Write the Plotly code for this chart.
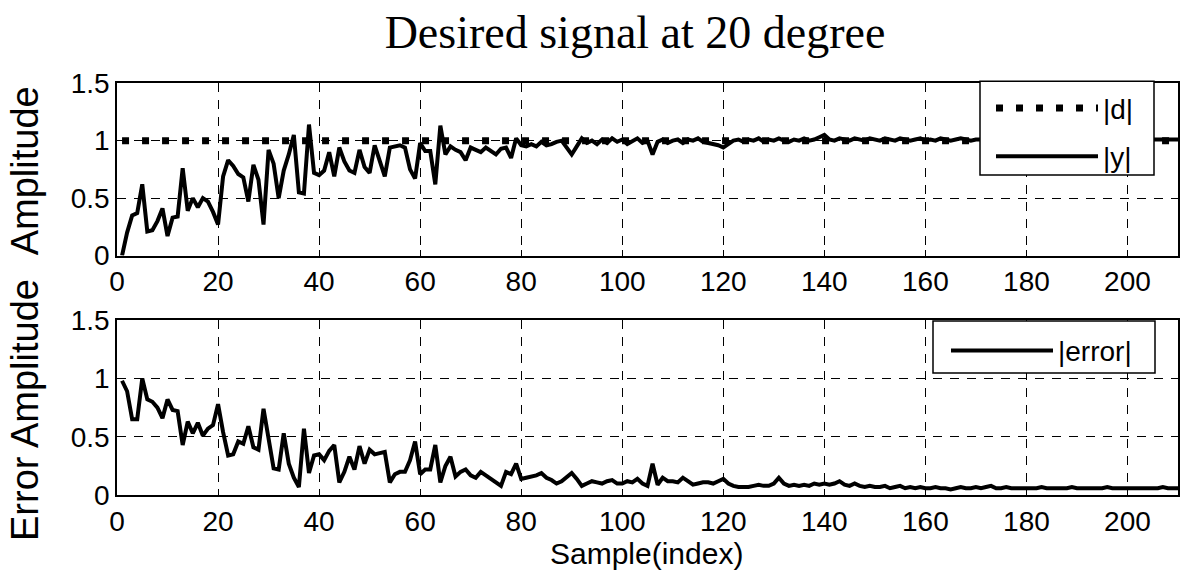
import plotly.graph_objects as go

# ---------------- data ----------------
y_mag = [
    0.0, 0.2, 0.35, 0.37, 0.62, 0.21, 0.22, 0.3, 0.41, 0.17,
    0.33, 0.34, 0.76, 0.39, 0.5, 0.42, 0.5, 0.47, 0.38, 0.27,
    0.69, 0.83, 0.78, 0.71, 0.68, 0.47, 0.79, 0.66, 0.27, 0.92,
    0.8, 0.5, 0.74, 0.88, 1.05, 0.55, 0.54, 1.14, 0.72, 0.70,
    0.74, 0.9, 0.69, 0.94, 0.82, 0.74, 0.72, 0.92, 0.77, 0.72,
    0.96, 0.82, 0.69, 0.94, 0.95, 0.96, 0.94, 0.75, 0.67, 0.98,
    0.91, 0.91, 0.62, 1.13, 0.88, 0.95, 0.92, 0.9, 0.83, 0.94,
    0.92, 0.9, 0.94, 0.91, 0.88, 0.93, 0.94, 0.85, 1.02, 0.96,
    0.95, 0.97, 0.95, 0.99, 0.96, 0.97, 0.99, 1.0, 0.94, 0.88,
    0.95, 1.02, 0.98, 1.0, 0.97, 1.01, 0.98, 1.02, 0.99, 1.01,
    0.97, 1.0, 1.02, 0.98, 1.0, 0.88, 0.99, 1.01, 0.98, 1.0,
    1.01, 0.98, 1.01, 1.0, 1.02, 0.99, 0.98, 0.97, 0.96, 0.94,
    0.97, 1.0, 1.01, 0.99, 1.01, 1.0, 1.02, 0.99, 1.01, 1.0,
    1.02, 1.0, 0.99, 1.01, 1.0, 1.02, 1.0, 1.01, 1.03, 1.05,
    1.01, 1.0, 1.02, 1.01, 1.0, 1.02, 1.01, 1.0, 1.02, 1.01,
    1.0, 1.02, 1.01, 1.0, 1.02, 1.01, 1.0, 1.01, 1.02, 1.0,
    1.01, 1.0, 1.02, 1.01, 1.0, 1.01, 1.02, 1.01, 1.0, 1.01,
    1.01, 1.01, 1.02, 1.01, 1.01, 1.01, 1.02, 1.01, 1.01, 1.01,
    1.01, 1.02, 1.01, 1.01, 1.01, 1.01, 1.01, 1.02, 1.01, 1.01,
    1.01, 1.01, 1.01, 1.01, 1.02, 1.01, 1.01, 1.01, 1.01, 1.01,
    1.01, 1.01, 1.02, 1.01, 1.01, 1.01, 1.01, 1.01, 1.01, 1.01,
]

err_mag = [
    0.98, 0.89, 0.65, 0.65, 1.0, 0.82, 0.8, 0.75, 0.66, 0.82,
    0.73, 0.72, 0.43, 0.63, 0.53, 0.62, 0.51, 0.57, 0.6, 0.78,
    0.54, 0.34, 0.35, 0.46, 0.44, 0.59, 0.41, 0.39, 0.74, 0.46,
    0.23, 0.22, 0.53, 0.27, 0.15, 0.07, 0.57, 0.19, 0.34, 0.35,
    0.3, 0.38, 0.43, 0.11, 0.2, 0.33, 0.22, 0.42, 0.27, 0.39,
    0.35, 0.36, 0.37, 0.11, 0.18, 0.2, 0.2, 0.3, 0.46, 0.18,
    0.22, 0.22, 0.43, 0.11, 0.25, 0.33, 0.16, 0.2, 0.22, 0.17,
    0.15, 0.2, 0.17, 0.14, 0.12, 0.08, 0.2, 0.18, 0.27, 0.14,
    0.15, 0.16, 0.17, 0.19, 0.15, 0.13, 0.1, 0.12, 0.16, 0.19,
    0.14, 0.08, 0.1, 0.12, 0.11, 0.1, 0.12, 0.13, 0.1, 0.1,
    0.12, 0.11, 0.14, 0.1, 0.08, 0.27, 0.09, 0.15, 0.12, 0.12,
    0.11, 0.15, 0.12, 0.09, 0.1, 0.11, 0.11, 0.1, 0.12, 0.14,
    0.1, 0.08, 0.07, 0.07, 0.07, 0.08, 0.09, 0.08, 0.08, 0.1,
    0.15, 0.1, 0.08, 0.09, 0.08, 0.09, 0.08, 0.1, 0.09, 0.1,
    0.09, 0.1, 0.12, 0.09, 0.08, 0.1, 0.08, 0.07, 0.08, 0.07,
    0.07, 0.08, 0.06, 0.07, 0.08, 0.06, 0.07, 0.06, 0.07, 0.06,
    0.06, 0.07, 0.06, 0.06, 0.05, 0.06, 0.07, 0.06, 0.06, 0.07,
    0.06, 0.07, 0.08, 0.06, 0.06, 0.07, 0.06, 0.06, 0.06, 0.06,
    0.06, 0.06, 0.07, 0.06, 0.06, 0.06, 0.06, 0.06, 0.07, 0.06,
    0.06, 0.06, 0.06, 0.06, 0.06, 0.07, 0.06, 0.06, 0.06, 0.06,
    0.06, 0.06, 0.06, 0.06, 0.06, 0.06, 0.07, 0.06, 0.06, 0.06,
]

samples = list(range(1, len(y_mag) + 1))
d_mag = [1.0] * len(samples)

x_ticks = [0, 20, 40, 60, 80, 100, 120, 140, 160, 180, 200]
y_ticks = [0, 0.5, 1, 1.5]
y_tick_text = ["0", "0.5", "1", "1.5"]

title_text = "Desired signal at 20 degree"
ylabel_top = "Amplitude"
ylabel_bottom = "Error Amplitude"
xlabel = "Sample(index)"

# ---------------- figure ----------------
W, H = 1185, 587
L, R = 117, 7
PW = W - L - R

SANS = "Liberation Sans, Arial, sans-serif"
SERIF = "Liberation Serif, Times New Roman, serif"


def fy(px):
    return (H - px) / H


def fx(px):
    return (px - L) / PW


fig = go.Figure()
fig.add_trace(go.Scatter(
    x=samples, y=d_mag, mode="lines", name="|d|", legendgroup="d",
    line=dict(color="black", width=7, dash="7px,13px"),
    xaxis="x", yaxis="y", legend="legend"))
fig.add_trace(go.Scatter(
    x=samples, y=y_mag, mode="lines", name="|y|", legendgroup="y",
    line=dict(color="black", width=4),
    xaxis="x", yaxis="y", legend="legend"))
fig.add_trace(go.Scatter(
    x=samples, y=err_mag, mode="lines", name="|error|",
    line=dict(color="black", width=4),
    xaxis="x2", yaxis="y2", legend="legend2"))

tickfont = dict(family=SANS, size=28, color="black")
common_x = dict(range=[0, 210], tickvals=x_ticks, showgrid=True, gridcolor="black",
                gridwidth=1, griddash="9px,8px", showline=True, mirror=True,
                linecolor="black", linewidth=1.5, ticks="inside", ticklen=6,
                tickcolor="black", tickfont=tickfont, zeroline=False,
                ticklabelstandoff=0)
common_y = dict(range=[0, 1.5], tickvals=y_ticks, ticktext=y_tick_text, showgrid=True,
                gridcolor="black", gridwidth=1, griddash="9px,8px", showline=True,
                mirror=True, linecolor="black", linewidth=1.5, ticks="inside",
                ticklen=6, tickcolor="black", tickfont=tickfont, zeroline=False)

legend_font = dict(family=SANS, size=28, color="black")

fig.update_layout(
    width=W, height=H,
    margin=dict(l=L, r=R, t=0, b=0),
    paper_bgcolor="white", plot_bgcolor="white",
    showlegend=True,
    xaxis=dict(domain=[0, 1], anchor="y", **common_x),
    yaxis=dict(domain=[fy(254), fy(72)], anchor="x", **common_y),
    xaxis2=dict(domain=[0, 1], anchor="y2", **common_x),
    yaxis2=dict(domain=[fy(507), fy(322)], anchor="x2", **common_y),
    title=dict(text=title_text, x=635 / W, xref="container", xanchor="center",
               y=fy(32), yref="container", yanchor="middle",
               font=dict(family=SERIF, size=46, color="black")),
    legend=dict(x=fx(991), y=fy(72), xanchor="left", yanchor="top",
                xref="paper", yref="paper",
                bgcolor="rgba(0,0,0,0)", borderwidth=0,
                font=legend_font, itemwidth=102, traceorder="grouped",
                tracegroupgap=9),
    legend2=dict(x=fx(946), y=fy(328), xanchor="left", yanchor="top",
                 xref="paper", yref="paper",
                 bgcolor="rgba(0,0,0,0)", borderwidth=0,
                 font=legend_font, itemwidth=102),
    shapes=[
        dict(type="rect", xref="paper", yref="paper", layer="above",
             x0=fx(980), x1=fx(1154), y0=fy(169), y1=fy(70),
             fillcolor="white", line=dict(color="black", width=1.5)),
        dict(type="rect", xref="paper", yref="paper", layer="above",
             x0=fx(933), x1=fx(1155), y0=fy(378), y1=fy(323),
             fillcolor="white", line=dict(color="black", width=1.5)),
    ],
    annotations=[
        dict(text=ylabel_top, x=fx(25), y=fy(165), xref="paper", yref="paper",
             showarrow=False, textangle=-90, xanchor="center", yanchor="middle",
             font=dict(family=SANS, size=38, color="black")),
        dict(text=ylabel_bottom, x=fx(25), y=fy(417), xref="paper", yref="paper",
             showarrow=False, textangle=-90, xanchor="center", yanchor="middle",
             font=dict(family=SANS, size=38, color="black")),
        dict(text=xlabel, x=fx(646), y=fy(568), xref="paper", yref="paper",
             showarrow=False, xanchor="center", yanchor="middle",
             font=dict(family=SANS, size=30, color="black")),
    ],
)

fig.write_html("out.html")
